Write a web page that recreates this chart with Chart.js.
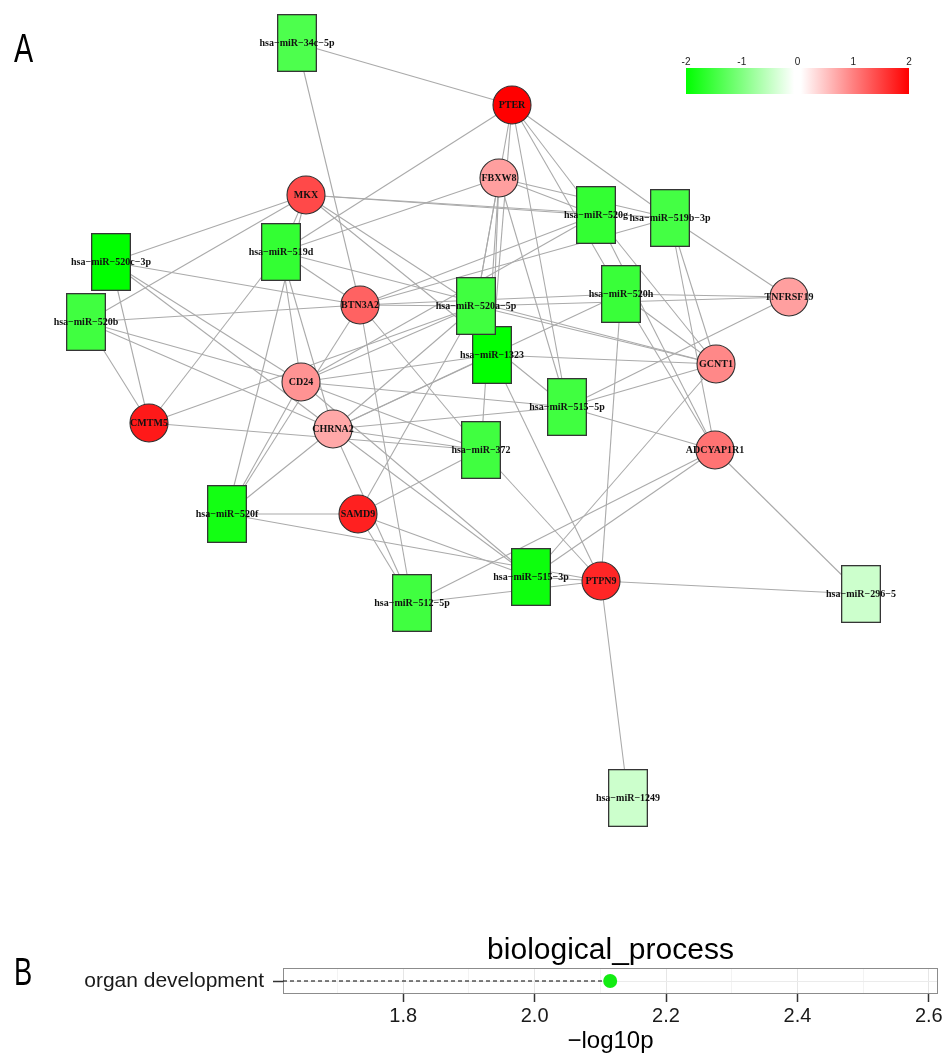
<!DOCTYPE html>
<html><head><meta charset="utf-8">
<script src="https://cdn.jsdelivr.net/npm/chart.js@4.4.0/dist/chart.umd.min.js"></script>
<style>
html,body{margin:0;padding:0;background:#fff;width:946px;height:1056px;overflow:hidden}
#wa{position:absolute;left:0;top:0;width:946px;height:900px}
#wb{position:absolute;left:0;top:900px;width:946px;height:156px}
</style></head><body>
<div id="wa"><canvas id="ca" width="946" height="900"></canvas></div>
<div id="wb"><canvas id="cb" width="946" height="156"></canvas></div>
<script>
// ---------- Panel A: miRNA-mRNA network (layout coordinates) ----------
const nodeNames = [
  'hsa-miR-1323','hsa-miR-34c-5p','hsa-miR-520g','hsa-miR-519b-3p','hsa-miR-520c-3p','hsa-miR-519d',
  'hsa-miR-520a-5p','hsa-miR-520h','hsa-miR-520b','hsa-miR-515-5p','hsa-miR-372','hsa-miR-520f',
  'hsa-miR-515-3p','hsa-miR-512-5p','hsa-miR-296-5','hsa-miR-1249',
  'PTER','FBXW8','MKX','BTN3A2','TNFRSF19','GCNT1','CD24','CMTM5','CHRNA2','ADCYAP1R1','SAMD9','PTPN9'
];
const nodeX = [492,297,596,670,111,281,476,621,86,567,481,227,531,412,861,628,
               512,499,306,360,789,716,301,149,333,715,358,601];
const nodeY = [355,43,215,218,262,252,306,294,322,407,450,514,577,603,594,798,
               105,178,195,305,297,364,382,423,429,450,514,581];
const nodeLogFC = [-2.0,-1.4,-1.6,-1.47,-2.0,-1.6,-1.5,-1.55,-1.5,-1.5,-1.5,-1.85,-1.9,-1.5,-0.4,-0.4,
                   2.0,0.75,1.43,1.23,0.75,0.93,0.85,1.8,0.68,1.1,1.75,1.7];
const nodeKind = ['miRNA','miRNA','miRNA','miRNA','miRNA','miRNA','miRNA','miRNA','miRNA','miRNA','miRNA','miRNA',
                  'miRNA','miRNA','miRNA','miRNA',
                  'gene','gene','gene','gene','gene','gene','gene','gene','gene','gene','gene','gene'];

const edgeMiRNA = [
  'hsa-miR-34c-5p','hsa-miR-34c-5p',
  'hsa-miR-520c-3p','hsa-miR-520c-3p','hsa-miR-520c-3p','hsa-miR-520c-3p','hsa-miR-520c-3p',
  'hsa-miR-520b','hsa-miR-520b','hsa-miR-520b','hsa-miR-520b','hsa-miR-520b',
  'hsa-miR-519d','hsa-miR-519d','hsa-miR-519d','hsa-miR-519d','hsa-miR-519d','hsa-miR-519d','hsa-miR-519d','hsa-miR-519d',
  'hsa-miR-520a-5p','hsa-miR-520a-5p','hsa-miR-520a-5p','hsa-miR-520a-5p','hsa-miR-520a-5p','hsa-miR-520a-5p','hsa-miR-520a-5p','hsa-miR-520a-5p','hsa-miR-520a-5p','hsa-miR-520a-5p',
  'hsa-miR-1323','hsa-miR-1323','hsa-miR-1323','hsa-miR-1323','hsa-miR-1323','hsa-miR-1323',
  'hsa-miR-520g','hsa-miR-520g','hsa-miR-520g','hsa-miR-520g','hsa-miR-520g','hsa-miR-520g','hsa-miR-520g',
  'hsa-miR-519b-3p','hsa-miR-519b-3p','hsa-miR-519b-3p','hsa-miR-519b-3p','hsa-miR-519b-3p','hsa-miR-519b-3p','hsa-miR-519b-3p',
  'hsa-miR-520h','hsa-miR-520h','hsa-miR-520h','hsa-miR-520h','hsa-miR-520h','hsa-miR-520h','hsa-miR-520h',
  'hsa-miR-515-5p','hsa-miR-515-5p','hsa-miR-515-5p','hsa-miR-515-5p','hsa-miR-515-5p','hsa-miR-515-5p','hsa-miR-515-5p','hsa-miR-515-5p',
  'hsa-miR-372','hsa-miR-372','hsa-miR-372','hsa-miR-372','hsa-miR-372','hsa-miR-372','hsa-miR-372',
  'hsa-miR-520f','hsa-miR-520f','hsa-miR-520f','hsa-miR-520f','hsa-miR-520f','hsa-miR-520f',
  'hsa-miR-515-3p','hsa-miR-515-3p','hsa-miR-515-3p','hsa-miR-515-3p','hsa-miR-515-3p','hsa-miR-515-3p',
  'hsa-miR-512-5p','hsa-miR-512-5p','hsa-miR-512-5p','hsa-miR-512-5p','hsa-miR-512-5p',
  'hsa-miR-296-5','hsa-miR-296-5',
  'hsa-miR-1249'
];
const edgeGene = [
  'PTER','BTN3A2',
  'MKX','BTN3A2','CD24','CHRNA2','CMTM5',
  'MKX','BTN3A2','CD24','CHRNA2','CMTM5',
  'PTER','FBXW8','MKX','BTN3A2','CD24','CHRNA2','CMTM5','GCNT1',
  'PTER','FBXW8','MKX','BTN3A2','CD24','CHRNA2','CMTM5','SAMD9','GCNT1','TNFRSF19',
  'PTER','FBXW8','CD24','CHRNA2','GCNT1','PTPN9',
  'PTER','FBXW8','MKX','BTN3A2','CD24','GCNT1','ADCYAP1R1',
  'PTER','FBXW8','MKX','BTN3A2','TNFRSF19','GCNT1','ADCYAP1R1',
  'PTER','BTN3A2','TNFRSF19','GCNT1','ADCYAP1R1','PTPN9','CHRNA2',
  'PTER','FBXW8','MKX','CD24','CHRNA2','TNFRSF19','GCNT1','ADCYAP1R1',
  'FBXW8','BTN3A2','CD24','CHRNA2','CMTM5','SAMD9','PTPN9',
  'MKX','BTN3A2','CD24','CHRNA2','SAMD9','PTPN9',
  'CHRNA2','SAMD9','PTPN9','GCNT1','ADCYAP1R1','CD24',
  'BTN3A2','CHRNA2','SAMD9','PTPN9','ADCYAP1R1',
  'ADCYAP1R1','PTPN9',
  'PTPN9'
];
const colorbarTicks = [-2,-1,0,1,2];

// ---------- Panel B: GO enrichment ----------
const goTerms = ['organ development'];
const goNegLog10P = [2.115];
const goAxisMin = 1.617, goAxisMax = 2.614;
const goMajorTicks = [1.8,2.0,2.2,2.4,2.6];
const goMinorTicks = [1.7,1.9,2.1,2.3,2.5];

// ---------- helpers ----------
function fcColor(v){
  const t = Math.max(-2, Math.min(2, v)) / 2;
  if (t < 0) { const k = Math.round(255 * (1 + t)); return 'rgb(' + k + ',255,' + k + ')'; }
  const k = Math.round(255 * (1 - t)); return 'rgb(255,' + k + ',' + k + ')';
}
function rectImg(fill){
  const c = document.createElement('canvas'); c.width = 40; c.height = 58;
  const g = c.getContext('2d');
  g.fillStyle = fill; g.fillRect(0.5, 0.5, 39, 57);
  g.strokeStyle = '#353535'; g.lineWidth = 1.3; g.strokeRect(0.65, 0.65, 38.7, 56.7);
  return c;
}
const idx = {}; nodeNames.forEach((n, i) => idx[n] = i);
const miIdx = [], geneIdx = [];
nodeKind.forEach((k, i) => (k === 'miRNA' ? miIdx : geneIdx).push(i));
const miImgs = miIdx.map(i => rectImg(fcColor(nodeLogFC[i])));

const edgeSets = edgeMiRNA.map((m, e) => {
  const a = idx[m], b = idx[edgeGene[e]];
  return {
    type: 'scatter', showLine: true, order: 2,
    data: [{x: nodeX[a], y: nodeY[a]}, {x: nodeX[b], y: nodeY[b]}],
    borderColor: '#aaaaaa', borderWidth: 1.1, pointRadius: 0, pointHoverRadius: 0
  };
});

const netPlugin = {
  id: 'net',
  afterDatasetsDraw(chart){
    const ctx = chart.ctx, sx = chart.scales.x, sy = chart.scales.y;
    ctx.save();
    ctx.fillStyle = '#111';
    ctx.font = 'bold 10px "Liberation Serif", "Times New Roman", serif';
    ctx.textAlign = 'center'; ctx.textBaseline = 'middle';
    nodeNames.forEach((n, i) => {
      ctx.fillText(n.replace(/-/g, '\u2212'), sx.getPixelForValue(nodeX[i]), sy.getPixelForValue(nodeY[i]) + 0.5);
    });
    // colour key
    const x0 = 686, x1 = 909, y0 = 68, y1 = 94;
    const gr = ctx.createLinearGradient(x0, 0, x1, 0);
    gr.addColorStop(0, fcColor(-2)); gr.addColorStop(0.25, fcColor(-1));
    gr.addColorStop(0.485, '#ffffff'); gr.addColorStop(0.515, '#ffffff');
    gr.addColorStop(0.75, fcColor(1)); gr.addColorStop(1, fcColor(2));
    ctx.fillStyle = gr; ctx.fillRect(x0, y0, x1 - x0, y1 - y0);
    ctx.fillStyle = '#222'; ctx.font = '10px "Liberation Sans", Arial, sans-serif';
    colorbarTicks.forEach(v => {
      ctx.fillText(String(v), x0 + (v + 2) / 4 * (x1 - x0), 62);
    });
    // panel letter
    ctx.save();
    ctx.translate(14, 62); ctx.scale(0.7, 1);
    ctx.textAlign = 'left'; ctx.textBaseline = 'alphabetic';
    ctx.fillStyle = '#000'; ctx.font = '41px "Liberation Sans", Arial, sans-serif';
    ctx.fillText('A', 0, 0);
    ctx.restore();
    ctx.restore();
  }
};

new Chart(document.getElementById('ca'), {
  type: 'scatter',
  data: {
    datasets: [
      {
        order: 0,
        data: miIdx.map(i => ({x: nodeX[i], y: nodeY[i]})),
        pointStyle: c => miImgs[c.dataIndex],
        pointRadius: 20, pointHoverRadius: 20
      },
      {
        order: 1,
        data: geneIdx.map(i => ({x: nodeX[i], y: nodeY[i]})),
        pointStyle: 'circle', pointRadius: 19, pointHoverRadius: 19,
        backgroundColor: geneIdx.map(i => fcColor(nodeLogFC[i])),
        borderColor: '#303030', borderWidth: 1.1
      },
      ...edgeSets
    ]
  },
  options: {
    responsive: false, animation: false, devicePixelRatio: 1,
    layout: {padding: 0, autoPadding: false},
    events: [],
    plugins: {legend: {display: false}, tooltip: {enabled: false}, title: {display: false}},
    scales: {
      x: {type: 'linear', min: 0, max: 946, display: false},
      y: {type: 'linear', min: 0, max: 900, reverse: true, display: false}
    }
  },
  plugins: [netPlugin]
});

// ---------- Panel B chart ----------
const bPlugin = {
  id: 'bdeco',
  beforeDatasetsDraw(chart){
    const a = chart.chartArea, ctx = chart.ctx;
    ctx.save();
    ctx.strokeStyle = '#8c8c8c'; ctx.lineWidth = 1;
    ctx.strokeRect(a.left + 0.5, a.top + 0.5, a.right - a.left - 1, a.bottom - a.top - 1);
    ctx.restore();
  },
  afterDraw(chart){
    const a = chart.chartArea, ctx = chart.ctx;
    ctx.save();
    ctx.fillStyle = '#000';
    ctx.font = '30px "Liberation Sans", Arial, sans-serif';
    ctx.textAlign = 'center'; ctx.textBaseline = 'alphabetic';
    ctx.fillText('biological_process', (a.left + a.right) / 2, 59);
    ctx.translate(14, 85); ctx.scale(0.7, 1);
    ctx.textAlign = 'left';
    ctx.font = '39px "Liberation Sans", Arial, sans-serif';
    ctx.fillText('B', 0, 0);
    ctx.restore();
  }
};

const stemSets = goTerms.map((t, i) => ({
  type: 'line', order: 1,
  data: [{x: goAxisMin, y: t}, {x: goNegLog10P[i], y: t}],
  borderColor: '#000', borderWidth: 1, borderDash: [4, 3], pointRadius: 0, pointHoverRadius: 0
}));

const allXTicks = goMajorTicks.map(v => ({value: v, major: true}))
  .concat(goMinorTicks.map(v => ({value: v, major: false})))
  .sort((p, q) => p.value - q.value);

new Chart(document.getElementById('cb'), {
  type: 'line',
  data: {
    datasets: [
      {
        type: 'scatter', order: 0,
        data: goTerms.map((t, i) => ({x: goNegLog10P[i], y: t})),
        pointRadius: 7, pointHoverRadius: 7,
        backgroundColor: '#12ec12', borderColor: '#12ec12', borderWidth: 0
      },
      ...stemSets
    ]
  },
  options: {
    responsive: false, animation: false, devicePixelRatio: 1,
    events: [],
    layout: {padding: {top: 68, right: 8, left: 0, bottom: 0}, autoPadding: false},
    plugins: {legend: {display: false}, tooltip: {enabled: false}},
    scales: {
      x: {
        type: 'linear', min: goAxisMin, max: goAxisMax,
        afterBuildTicks: s => { s.ticks = allXTicks.map(t => ({value: t.value, major: t.major})); },
        afterFit: s => { s.height = 62; },
        border: {display: false},
        grid: {
          color: c => (c.tick && c.tick.major) ? '#e6e6e6' : '#f3f3f3',
          tickColor: c => (c.tick && c.tick.major) ? '#333333' : 'rgba(0,0,0,0)',
          tickLength: 8, lineWidth: 1, tickWidth: 1.5
        },
        ticks: {
          autoSkip: false, maxRotation: 0, padding: 2,
          color: '#1a1a1a',
          font: {family: '"Liberation Sans", Arial, sans-serif', size: 20},
          callback: function(v){ return goMajorTicks.some(m => Math.abs(m - v) < 1e-9) ? Number(v).toFixed(1) : ''; }
        },
        title: {
          display: true, text: '\u2212log10p', color: '#000',
          font: {family: '"Liberation Sans", Arial, sans-serif', size: 24},
          padding: {top: 0, bottom: 0}
        }
      },
      y: {
        type: 'category', labels: goTerms, offset: true,
        afterFit: s => { s.width = 283; },
        border: {display: false},
        grid: {color: '#ebebeb', tickColor: '#333333', tickLength: 10, tickWidth: 1.5},
        ticks: {
          padding: 9, color: '#1a1a1a',
          font: {family: '"Liberation Sans", Arial, sans-serif', size: 21}
        }
      }
    }
  },
  plugins: [bPlugin]
});
</script>
</body></html>
